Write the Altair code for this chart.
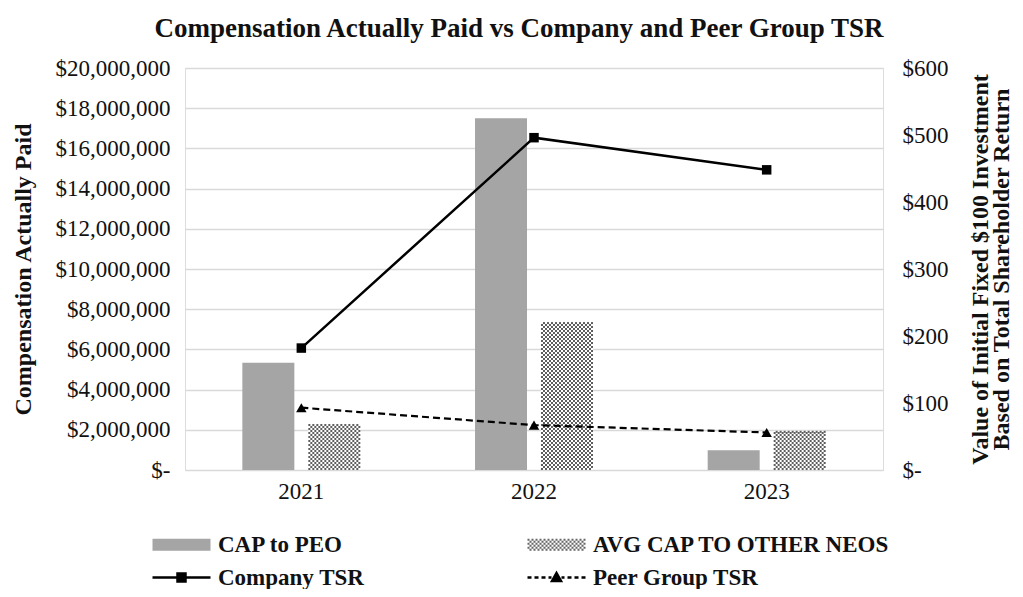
import altair as alt
import pandas as pd

# ---- data ----
years = ["2021", "2022", "2023"]
cap_peo = [5330000, 17500000, 980000]
avg_cap_neos = [2330000, 7360000, 1950000]
company_tsr = [182, 496, 448]
peer_tsr = [93, 67, 56]

PEO = "CAP to PEO"
AVG = "AVG CAP TO OTHER NEOS"
CTSR = "Company TSR"
PTSR = "Peer Group TSR"
# legend is filled column by column: column 1 = PEO, Company; column 2 = AVG, Peer
legend_names = [PEO, CTSR, AVG, PTSR]

bars_df = pd.DataFrame(
    [{"series": PEO, "year": y, "idx": i, "value": v} for i, (y, v) in enumerate(zip(years, cap_peo))]
    + [{"series": AVG, "year": y, "idx": i, "value": v} for i, (y, v) in enumerate(zip(years, avg_cap_neos))]
)
tsr_df = pd.DataFrame({"year": years, "company": company_tsr, "peer": peer_tsr})
legend_df = pd.DataFrame({"series": legend_names})

# ---- layout ----
W, H = 698, 402
PI = 0.493          # x band paddingInner
Q = 0.212           # xOffset paddingInner
STEP = W / 3.0
BAND = STEP * (1 - PI)
SUBSTEP = BAND / (2 - Q)
SUB = SUBSTEP * (1 - Q)
AVG_START = STEP * PI / 2 + SUBSTEP
NCOL = 26
CELL = SUB / NCOL
ROW = 20000000 / H * 2

FONT = "Liberation Serif"
TICK_FS = 23

x_scale = alt.Scale(type="band", domain=years, paddingInner=PI, paddingOuter=PI / 2)
xo_scale = alt.Scale(domain=[PEO, AVG], paddingInner=Q, paddingOuter=0)
yL = alt.Scale(domain=[0, 20000000], nice=False, zero=True)
yR = alt.Scale(domain=[0, 600], nice=False, zero=True)

x_axis = alt.Axis(title=None, ticks=False, domain=False, labelFont=FONT, labelFontSize=TICK_FS,
                  labelColor="#111", labelPadding=10, labelAngle=0, grid=False)
left_axis = alt.Axis(
    title="Compensation Actually Paid", orient="left",
    values=list(range(0, 20000001, 2000000)),
    labelExpr="datum.value == 0 ? '$-   ' : '$' + format(datum.value, ',')",
    ticks=False, domain=False, grid=True, gridColor="#d9d9d9", gridWidth=1.5,
    labelFont=FONT, labelFontSize=TICK_FS, labelColor="#111", labelPadding=15,
    titleFont=FONT, titleFontSize=24, titleFontWeight="bold", titleColor="#111", titlePadding=20,
)
right_axis = alt.Axis(
    title=["Value of Initial Fixed $100 Investment", "Based on Total Shareholder Return"],
    orient="right", values=list(range(0, 601, 100)),
    labelExpr="datum.value == 0 ? '$-' : '$' + datum.value",
    ticks=False, domain=False, grid=False,
    labelFont=FONT, labelFontSize=TICK_FS, labelColor="#111", labelPadding=19,
    titleFont=FONT, titleFontSize=24, titleFontWeight="bold", titleColor="#111",
    titleAngle=270, titlePadding=23, titleLineHeight=21,
)

peo_bars = alt.Chart(bars_df).transform_filter(alt.datum.series == PEO).mark_bar(
    color="#a5a5a5", opacity=1
).encode(
    x=alt.X("year:N", scale=x_scale, axis=x_axis),
    xOffset=alt.XOffset("series:N", scale=xo_scale),
    y=alt.Y("value:Q", scale=yL, axis=left_axis),
)

avg_bars = alt.Chart(bars_df).transform_filter(alt.datum.series == AVG).mark_bar(
    color="white", opacity=1
).encode(
    x=alt.X("year:N", scale=x_scale, axis=None),
    xOffset=alt.XOffset("series:N", scale=xo_scale),
    y=alt.Y("value:Q", scale=yL, axis=None),
)

# checker texture of the AVG bars
avg_texture = alt.Chart(bars_df).transform_filter(alt.datum.series == AVG).transform_calculate(
    r=f"sequence(0, round(datum.value / {ROW}))"
).transform_flatten(["r"]).transform_calculate(
    c=f"sequence(0, {NCOL})"
).transform_flatten(["c"]).transform_filter(
    "(datum.r + datum.c) % 2 == 0"
).transform_calculate(
    xd=f"datum.idx + ({AVG_START} + (datum.c + 0.5) * {CELL}) / {STEP}",
    yd=f"min((datum.r + 0.5) * {ROW}, datum.value - {ROW} / 2)",
).mark_square(size=4, color="#5e5e5e", opacity=1).encode(
    x=alt.X("xd:Q", scale=alt.Scale(domain=[0, 3], nice=False, zero=False), axis=None),
    y=alt.Y("yd:Q", scale=yL, axis=None),
)

company_line = alt.Chart(tsr_df).mark_line(color="black", strokeWidth=2.5).encode(
    x=alt.X("year:N", scale=x_scale, axis=None),
    y=alt.Y("company:Q", scale=yR, axis=right_axis),
)
company_pts = alt.Chart(tsr_df).mark_point(shape="square", filled=True, size=90, color="black", opacity=1).encode(
    x=alt.X("year:N", scale=x_scale, axis=None),
    y=alt.Y("company:Q", scale=yR, axis=None),
)
peer_line = alt.Chart(tsr_df).mark_line(color="black", strokeWidth=2.2, strokeDash=[7, 4]).encode(
    x=alt.X("year:N", scale=x_scale, axis=None),
    y=alt.Y("peer:Q", scale=yR, axis=None),
)
peer_pts = alt.Chart(tsr_df).mark_point(shape="triangle-up", filled=True, size=110, color="black", opacity=1).encode(
    x=alt.X("year:N", scale=x_scale, axis=None),
    y=alt.Y("peer:Q", scale=yR, axis=None),
)

# ---- legend symbols (paths scaled by 10 px per unit, 58 px wide) ----
checker = "".join(
    f"M{-1 + 0.2 * i:.2f},{-0.6 + 0.2 * j:.2f}h0.2v0.2h-0.2Z"
    for i in range(29) for j in range(6) if (i + j) % 2 == 0
)
sym_peo = "M-1,-0.6H4.8V0.6H-1Z"
sym_company = "M-1,0H4.8M1.5,-0.4H2.3V0.4H1.5Z"
sym_peer = ("M-1,0H-0.6M-0.3,0H0.1M0.4,0H0.8M1.1,0H1.4"
            "M2.4,0H2.7M3.0,0H3.4M3.7,0H4.1M4.4,0H4.8"
            "M1.45,0.35L1.9,-0.45L2.35,0.35Z")
shape_range = {PEO: sym_peo, AVG: checker, CTSR: sym_company, PTSR: sym_peer}
fill_range = {PEO: "#a5a5a5", AVG: "#666666", CTSR: "black", PTSR: "black"}
stroke_range = {PEO: "transparent", AVG: "transparent", CTSR: "black", PTSR: "black"}

legend = alt.Legend(
    title=None, orient="none", legendX=-34, legendY=465, columns=2,
    columnPadding=157, rowPadding=9, labelOffset=44, symbolSize=400,
    symbolStrokeWidth=2.5, symbolOpacity=1,
    labelFont=FONT, labelFontSize=23, labelFontWeight="bold", labelColor="#111",
    labelLimit=0,
)
legend_layer = alt.Chart(legend_df).transform_filter("false").mark_point(
    filled=True, size=400, opacity=1, strokeWidth=2.5
).encode(
    shape=alt.Shape("series:N", scale=alt.Scale(domain=legend_names,
                    range=[shape_range[n] for n in legend_names]), legend=legend),
    fill=alt.Fill("series:N", scale=alt.Scale(domain=legend_names,
                  range=[fill_range[n] for n in legend_names]), legend=legend),
    stroke=alt.Stroke("series:N", scale=alt.Scale(domain=legend_names,
                      range=[stroke_range[n] for n in legend_names]), legend=legend),
)

chart = alt.layer(
    peo_bars, avg_bars, avg_texture, company_line, peer_line, company_pts, peer_pts, legend_layer
).resolve_scale(
    x="independent", y="independent", xOffset="independent"
).properties(
    width=W, height=H,
    autosize=alt.AutoSizeParams(type="none"),
    padding={"left": 177, "top": 60, "right": 132, "bottom": 119},
    title=alt.TitleParams(
        "Compensation Actually Paid vs Company and Peer Group TSR",
        font=FONT, fontSize=27, fontWeight="bold", color="#111",
        anchor="middle", offset=14, dx=-15,
    ),
).configure_view(stroke=None).configure(background="white")

chart.save("out.html", embed_options={"renderer": "svg", "actions": False})
